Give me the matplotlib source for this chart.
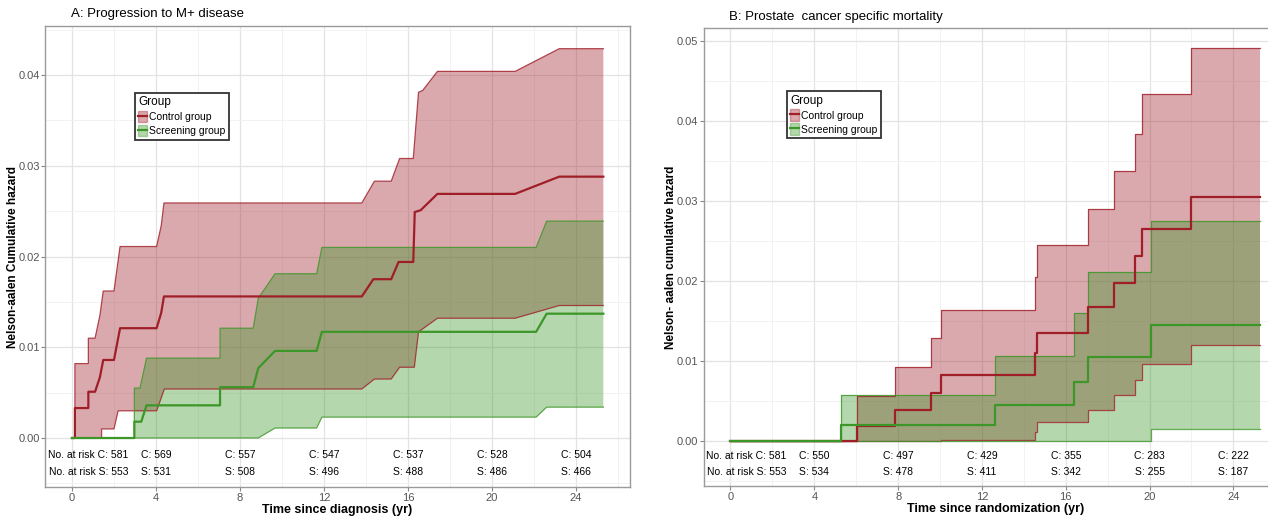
import matplotlib
matplotlib.use("Agg")
import matplotlib.pyplot as plt
from matplotlib.patches import Patch
from matplotlib.lines import Line2D
from matplotlib.legend_handler import HandlerTuple
from matplotlib import ticker

plt.rcParams['font.family'] = ['Liberation Sans', 'DejaVu Sans']

# ---- Panel A: progression to M+ disease (vertices) ----
a_ctrl_t = [0, 0.14, 0.14, 0.78, 0.78, 1.10, 1.33, 1.49, 2.00, 2.29, 4.03, 4.25, 4.38,
            13.80, 14.35, 15.20, 15.55, 16.25, 16.32, 16.60, 17.40, 21.10, 23.20, 25.30]
a_ctrl_v = [0, 0, .0033, .0033, .0051, .0051, .0067, .0086, .0086, .0121, .0121, .0138, .0156,
            .0156, .0175, .0175, .0194, .0194, .0249, .0251, .0269, .0269, .0288, .0288]
a_ctrl_up_t = [0, 0.14, 0.14, 0.78, 0.78, 1.10, 1.33, 1.49, 2.00, 2.29, 4.03, 4.25, 4.38,
               13.80, 14.40, 15.20, 15.60, 16.25, 16.50, 16.70, 17.40, 21.10, 23.20, 25.30]
a_ctrl_up_v = [0, 0, .0082, .0082, .0110, .0110, .0135, .0162, .0162, .0211, .0211, .0234, .0259,
               .0259, .0283, .0283, .0308, .0308, .0381, .0383, .0404, .0404, .0429, .0429]
a_ctrl_lo_t = [0, 1.41, 1.41, 2.00, 2.20, 4.03, 4.40, 13.80, 14.40, 15.20, 15.60, 16.30, 16.50,
               17.40, 21.10, 23.20, 25.30]
a_ctrl_lo_v = [0, 0, .0010, .0010, .0030, .0030, .0054, .0054, .0065, .0065, .0078, .0078, .0117,
               .0132, .0132, .0146, .0146]

a_scr_t = [0, 2.97, 2.97, 3.30, 3.55, 7.05, 7.05, 8.63, 8.87, 9.67, 11.65, 11.90, 22.10, 22.60, 25.30]
a_scr_v = [0, 0, .0018, .0018, .0036, .0036, .0056, .0056, .0077, .0096, .0096, .0117, .0117, .0137, .0137]
a_scr_up_t = [0, 2.97, 2.97, 3.24, 3.55, 7.05, 7.05, 8.63, 8.87, 9.67, 11.65, 11.90, 22.10, 22.60, 25.30]
a_scr_up_v = [0, 0, .0055, .0055, .0088, .0088, .0121, .0121, .0154, .0181, .0181, .0210, .0210, .0239, .0239]
a_scr_lo_t = [0, 8.87, 9.67, 11.65, 11.90, 22.10, 22.60, 25.30]
a_scr_lo_v = [0, 0, .0011, .0011, .0023, .0023, .0034, .0034]

a_risk_c = [581, 569, 557, 547, 537, 528, 504]
a_risk_s = [553, 531, 508, 496, 488, 486, 466]

# ---- Panel B: prostate cancer specific mortality ----
b_ctrl_t = [0, 6.05, 6.05, 7.84, 7.84, 9.59, 9.59, 10.06, 10.06, 14.54, 14.54, 14.65, 14.65,
            17.08, 17.08, 18.32, 18.32, 19.30, 19.30, 19.62, 19.62, 21.97, 21.97, 25.25]
b_ctrl_v = [0, 0, .0019, .0019, .0039, .0039, .0060, .0060, .0083, .0083, .0110, .0110, .0135,
            .0135, .0167, .0167, .0197, .0197, .0231, .0231, .0265, .0265, .0305, .0305]
b_ctrl_up_t = [0, 6.05, 6.05, 7.84, 7.84, 9.59, 9.59, 10.06, 10.06, 14.54, 14.54, 14.65, 14.65,
               17.08, 17.08, 18.32, 18.32, 19.30, 19.30, 19.65, 19.65, 21.97, 21.97, 25.25]
b_ctrl_up_v = [0, 0, .0056, .0056, .0093, .0093, .0129, .0129, .0164, .0164, .0205, .0205, .0245,
               .0245, .0290, .0290, .0337, .0337, .0384, .0384, .0433, .0433, .0491, .0491]
b_ctrl_lo_t = [0, 10.06, 10.06, 14.54, 14.54, 14.65, 14.65, 17.08, 17.08, 18.32, 18.32,
               19.30, 19.30, 19.65, 19.65, 21.97, 21.97, 25.25]
b_ctrl_lo_v = [0, 0, .0002, .0002, .0012, .0012, .0024, .0024, .0039, .0039, .0057,
               .0057, .0076, .0076, .0096, .0096, .0120, .0120]

b_scr_t = [0, 5.25, 5.25, 12.63, 12.63, 16.37, 16.37, 17.08, 17.08, 20.06, 20.06, 25.25]
b_scr_v = [0, 0, .0020, .0020, .0045, .0045, .0074, .0074, .0105, .0105, .0145, .0145]
b_scr_up_t = [0, 5.25, 5.25, 12.63, 12.63, 16.37, 16.37, 17.08, 17.08, 20.06, 20.06, 25.25]
b_scr_up_v = [0, 0, .0058, .0058, .0106, .0106, .0160, .0160, .0211, .0211, .0275, .0275]
b_scr_lo_t = [0, 20.06, 20.06, 25.25]
b_scr_lo_v = [0, 0, .0015, .0015]

b_risk_c = [581, 550, 497, 429, 355, 283, 222]
b_risk_s = [553, 534, 478, 411, 342, 255, 187]

risk_times = [0, 4, 8, 12, 16, 20, 24]
group_labels = ['Control group', 'Screening group']

RED = '#a01e28'
GREEN = '#3c9628'
FILL_ALPHA = 0.38


def ribbon(ax, up_t, up_v, lo_t, lo_v, color):
    xs = list(up_t) + list(lo_t)[::-1]
    ys = list(up_v) + list(lo_v)[::-1]
    ax.fill(xs, ys, facecolor=color, alpha=FILL_ALPHA, edgecolor='none', zorder=2)
    ax.plot(up_t, up_v, color=color, lw=0.9, alpha=0.8, zorder=3)
    ax.plot(lo_t, lo_v, color=color, lw=0.9, alpha=0.8, zorder=3)


def panel(ax, title, xlabel, ylabel, ylim, ymax_tick, curves, risk_c, risk_s, leg_anchor):
    (c_t, c_v, cu_t, cu_v, cl_t, cl_v), (s_t, s_v, su_t, su_v, sl_t, sl_v) = curves
    ribbon(ax, cu_t, cu_v, cl_t, cl_v, RED)
    ribbon(ax, su_t, su_v, sl_t, sl_v, GREEN)
    ax.plot(c_t, c_v, color=RED, lw=1.6, zorder=4)
    ax.plot(s_t, s_v, color=GREEN, lw=1.6, zorder=5)

    ax.set_xlim(-1.265, 26.56)
    ax.set_ylim(*ylim)
    ax.xaxis.set_major_locator(ticker.MultipleLocator(4))
    ax.xaxis.set_minor_locator(ticker.MultipleLocator(2))
    ax.set_yticks([i * 0.01 for i in range(ymax_tick + 1)])
    ax.yaxis.set_minor_locator(ticker.MultipleLocator(0.005))
    ax.yaxis.set_major_formatter(ticker.FormatStrFormatter('%.2f'))
    ax.grid(True, which='major', color='#e3e3e3', lw=0.9, zorder=0)
    ax.grid(True, which='minor', color='#f2f2f2', lw=0.7, zorder=0)
    ax.set_axisbelow(True)
    ax.tick_params(which='major', length=3, color='#888888', labelcolor='#555555',
                   labelsize=8, pad=1)
    ax.tick_params(which='minor', length=0)
    for s in ax.spines.values():
        s.set_color('#9a9a9a')
        s.set_linewidth(1.0)

    for i, (t, c, s) in enumerate(zip(risk_times, risk_c, risk_s)):
        if i == 0:
            ax.text(2.68, -0.0019, f'No. at risk C: {c}', ha='right', va='center', fontsize=7.5, zorder=6)
            ax.text(2.68, -0.0038, f'No. at risk S: {s}', ha='right', va='center', fontsize=7.5, zorder=6)
        else:
            ax.text(t, -0.0019, f'C: {c}', ha='center', va='center', fontsize=7.5, zorder=6)
            ax.text(t, -0.0038, f'S: {s}', ha='center', va='center', fontsize=7.5, zorder=6)

    ax.text(0.043, 1.025, title, transform=ax.transAxes, ha='left', va='center', fontsize=9.5)
    ax.set_xlabel(xlabel, fontsize=9, fontweight='bold')
    ax.xaxis.set_label_coords(0.5, -0.037)
    ax.set_ylabel(ylabel, fontsize=8.5, fontweight='bold')
    ax.yaxis.set_label_coords(-0.046, 0.5)

    handles = [(Patch(facecolor=RED, alpha=FILL_ALPHA, edgecolor=RED), Line2D([], [], color=RED, lw=1.6)),
               (Patch(facecolor=GREEN, alpha=FILL_ALPHA, edgecolor=GREEN), Line2D([], [], color=GREEN, lw=1.6))]
    leg = ax.legend(handles, group_labels, title='Group', loc='upper left', bbox_to_anchor=leg_anchor,
                    handler_map={tuple: HandlerTuple(ndivide=1, pad=0)}, fontsize=7.5, title_fontsize=8.5,
                    handlelength=0.85, handleheight=1.3, handletextpad=0.2, labelspacing=0.25,
                    borderpad=0.35, borderaxespad=0, fancybox=False, framealpha=1, edgecolor='#333333')
    leg._legend_box.align = 'left'
    leg.get_frame().set_linewidth(1.3)


fig = plt.figure(figsize=(12.68, 5.17), dpi=100)
ax_a = fig.add_axes([0.0358, 0.058, 0.4609, 0.8917])
ax_b = fig.add_axes([0.5552, 0.060, 0.4598, 0.8859])

panel(ax_a, 'A: Progression to M+ disease', 'Time since diagnosis (yr)',
      'Nelson-aalen Cumulative hazard', (-0.0054, 0.0454), 4,
      ((a_ctrl_t, a_ctrl_v, a_ctrl_up_t, a_ctrl_up_v, a_ctrl_lo_t, a_ctrl_lo_v),
       (a_scr_t, a_scr_v, a_scr_up_t, a_scr_up_v, a_scr_lo_t, a_scr_lo_v)),
      a_risk_c, a_risk_s, (0.153, 0.855))

panel(ax_b, 'B: Prostate  cancer specific mortality', 'Time since randomization (yr)',
      'Nelson- aalen cumulative hazard', (-0.0056, 0.0516), 5,
      ((b_ctrl_t, b_ctrl_v, b_ctrl_up_t, b_ctrl_up_v, b_ctrl_lo_t, b_ctrl_lo_v),
       (b_scr_t, b_scr_v, b_scr_up_t, b_scr_up_v, b_scr_lo_t, b_scr_lo_v)),
      b_risk_c, b_risk_s, (0.142, 0.862))

fig.savefig('out.png', dpi=100)
